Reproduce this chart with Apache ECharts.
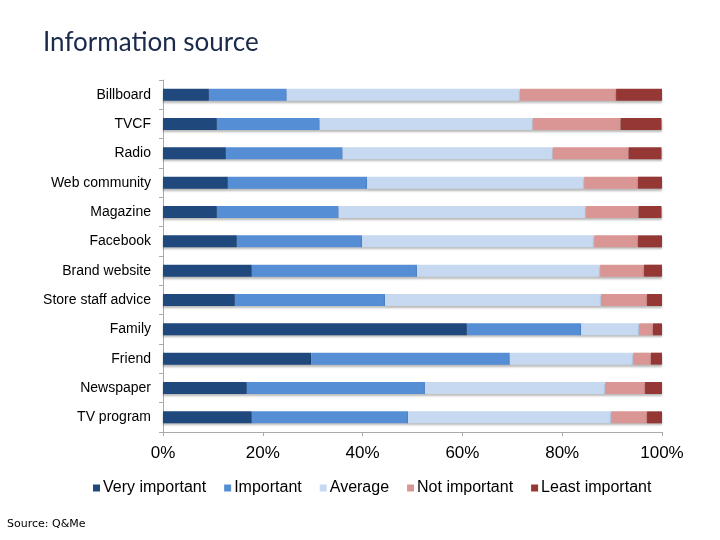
<!DOCTYPE html>
<html>
<head>
<meta charset="utf-8">
<script src="https://cdn.jsdelivr.net/npm/echarts@6/dist/echarts.min.js"></script>
<style>html,body{margin:0;padding:0;background:#fff;}#main{width:720px;height:540px;}</style>
</head>
<body>
<div id="main"></div>
<script>
const categories = ["Billboard","TVCF","Radio","Web community","Magazine","Facebook","Brand website","Store staff advice","Family","Friend","Newspaper","TV program"];
const seriesNames = ["Very important","Important","Average","Not important","Least important"];
const veryImportant  = [9.2, 10.8, 12.6, 13.0, 10.8, 14.8, 17.8, 14.4, 60.9, 29.7, 16.8, 17.8];
const important      = [15.6, 20.6, 23.4, 27.9, 24.4, 25.1, 33.1, 30.1, 22.9, 39.8, 35.7, 31.3];
const average        = [46.7, 42.7, 42.1, 43.5, 49.5, 46.5, 36.7, 43.3, 11.6, 24.7, 36.1, 40.7];
const notImportant   = [19.3, 17.6, 15.2, 10.8, 10.6, 8.8, 8.8, 9.2, 2.8, 3.6, 8.0, 7.2];
const leastImportant = [9.2, 8.2, 6.6, 4.8, 4.6, 4.8, 3.6, 3.0, 1.8, 2.2, 3.4, 3.0];
const xTicks = [0, 20, 40, 60, 80, 100];

const colors = ["#1f497d","#558ed5","#c6d9f1","#d99694","#953735"];
const dataSets = [veryImportant, important, average, notImportant, leastImportant];

const chart = echarts.init(document.getElementById('main'), null, {renderer:'canvas'});
chart.setOption({
  animation: false,
  backgroundColor: '#fff',
  title: {
    text: 'Information source',
    left: 38, top: 25,
    textStyle: {fontFamily: 'Lato', fontSize: 26, fontWeight: 'normal', color: '#1b2a4a'}
  },
  graphic: [{
    type: 'text', left: 7, top: 519,
    style: {text: 'Source: Q&Me', fontFamily: 'DejaVu Sans', fontSize: 11, fill: '#000'}
  }],
  legend: {
    left: 88, top: 475,
    itemWidth: 7, itemHeight: 7, itemGap: 18,
    icon: 'rect',
    textStyle: {fontFamily: 'Arial, Liberation Sans', fontSize: 16, color: '#000', padding: [0,0,0,-2]},
    data: seriesNames
  },
  grid: {left: 163, right: 58, top: 80, bottom: 108, containLabel: false},
  xAxis: {
    type: 'value', min: 0, max: 100, interval: 20,
    axisLine: {show: true, lineStyle: {color: '#aaaaaa', width: 1}},
    axisTick: {show: true, length: 4, lineStyle: {color: '#aaaaaa'}},
    splitLine: {show: false},
    axisLabel: {
      margin: 13, fontFamily: 'Arial, Liberation Sans', fontSize: 17, color: '#000',
      formatter: v => xTicks.includes(v) ? v + '%' : ''
    }
  },
  yAxis: {
    type: 'category', data: categories, inverse: true,
    axisLine: {show: true, lineStyle: {color: '#aaaaaa', width: 1}},
    axisTick: {show: true, length: 4, lineStyle: {color: '#aaaaaa'}},
    axisLabel: {margin: 12, fontFamily: 'Arial, Liberation Sans', fontSize: 14, color: '#000'}
  },
  series: seriesNames.map((name, i) => ({
    name: name, type: 'bar', stack: 'total', barWidth: 12,
    data: dataSets[i],
    itemStyle: {color: colors[i], shadowColor: 'rgba(0,0,0,0.28)', shadowOffsetY: 2, shadowBlur: 2}
  }))
});
</script>
</body>
</html>
